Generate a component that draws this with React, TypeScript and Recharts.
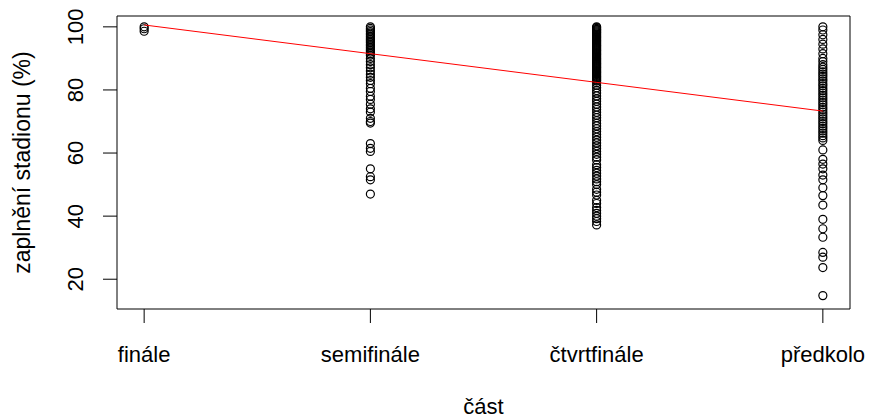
import React from 'react';
import { ComposedChart, Scatter, XAxis, YAxis, ReferenceArea, Label } from 'recharts';

const categories = ['finále', 'semifinále', 'čtvrtfinále', 'předkolo'];

const finale = [100, 99.4, 98.6];

const semifinale = [
  100, 99.5, 99, 98.5, 98, 97.5, 97, 96.5, 96, 95.5, 95, 94.5, 94, 93.5, 93, 92.5, 92,
  91.5, 91, 90, 89, 88, 87, 86, 85, 84, 83, 82, 80.5, 79.5, 78, 77, 75.5, 74, 73, 71,
  70, 69.5, 63, 61.5, 60.5, 55, 52.5, 51.5, 47,
];

const ctvrtfinale = [
  100, 99.8, 99.5, 99.2, 99, 98.7, 98.4, 98.1, 97.8, 97.5, 97.2, 96.9, 96.6, 96.3, 96,
  95.7, 95.4, 95.1, 94.8, 94.5, 94.2, 93.9, 93.6, 93.3, 93, 92.7, 92.4, 92.1, 91.8,
  91.5, 91.2, 90.9, 90.6, 90.3, 90, 89.7, 89.4, 89.1, 88.8, 88.5, 88.2, 87.9, 87.6,
  87.3, 87, 86.7, 86.4, 86.1, 85.8, 85.5, 85.2, 84.9, 84.6, 84.3, 84, 83.7, 83.4, 83.1,
  82.8, 82.3, 81.5, 80.7, 79.8, 79, 78.1, 77.2, 76.4, 75.5, 74.6, 73.8, 72.9, 72, 71.2,
  70.3, 69.4, 68.6, 67.7, 66.8, 65.9, 65, 64.1, 63.2, 62.3, 61.4, 60.5, 59.6, 58.7,
  57.8, 56.3, 55.4, 54.5, 53.6, 52.7, 51.8, 50.9, 50, 48.5, 47.6, 46.7, 45, 44, 42.7,
  41.8, 40.9, 40, 39.2, 38.3, 37.2,
];

const predkolo = [
  100, 99, 97.5, 96, 94.5, 93, 91.5, 90, 89, 88, 87.2, 86.5, 85.7, 85, 84.3, 83.5, 82.8,
  82, 81.3, 80.5, 79.8, 79, 78.3, 77.5, 76.8, 76, 75.3, 74.5, 73.8, 73, 72.3, 71.5,
  70.8, 70, 69.3, 68.5, 67.8, 67, 66.3, 65.5, 64.8, 64, 61, 58, 56.5, 55, 53, 51.5,
  49, 46.5, 43.5, 39, 36, 33.3, 28.5, 27, 23.7, 14.8,
];

const trend = [100.6, 91.5, 82.4, 73.3];

const xTicks = [1, 2, 3, 4];
const yTicks = [20, 40, 60, 80, 100];

const groups = [finale, semifinale, ctvrtfinale, predkolo];
const points = groups.flatMap((vals, i) => vals.map((v) => ({ x: i + 1, y: v })));
const trendData = trend.map((v, i) => ({ x: i + 1, y: v }));

const FONT = '"Liberation Sans", Arial, sans-serif';
const FS = 22;

const OpenCircle = (props: any) => (
  <circle cx={props.cx} cy={props.cy} r={4} fill="none" stroke="#000" strokeWidth={1.2} />
);
const NoShape = () => <g />;

const XTick = (props: any) => {
  const { x, y, payload } = props;
  return (
    <text x={x} y={y + 37} textAnchor="middle" fontFamily={FONT} fontSize={FS} fill="#000">
      {categories[payload.value - 1]}
    </text>
  );
};

const YTick = (props: any) => {
  const { x, y, payload } = props;
  const bx = x - 18;
  return (
    <text
      x={bx}
      y={y}
      transform={`rotate(-90 ${bx} ${y})`}
      textAnchor="middle"
      fontFamily={FONT}
      fontSize={FS}
      fill="#000"
    >
      {payload.value}
    </text>
  );
};

export default function App() {
  return (
    <div style={{ position: 'absolute', left: 0, top: 0, width: 870, height: 419, background: '#fff' }}>
      <ComposedChart width={870} height={419} margin={{ top: 16, right: 20, bottom: 0, left: 0 }}>
        <XAxis
          type="number"
          dataKey="x"
          domain={[0.88, 4.12]}
          ticks={xTicks}
          axisLine={false}
          tickLine={{ stroke: '#000' }}
          tickSize={14}
          tickMargin={2}
          height={110}
          tick={<XTick />}
          interval={0}
          allowDataOverflow
        >
          <Label
            content={(p: any) => {
              const vb = p.viewBox;
              return (
                <text x={vb.x + vb.width / 2} y={vb.y + 105} textAnchor="middle" fontFamily={FONT} fontSize={FS} fill="#000">
                  část
                </text>
              );
            }}
          />
        </XAxis>
        <YAxis
          type="number"
          dataKey="y"
          domain={[10.56, 103.44]}
          ticks={yTicks}
          axisLine={false}
          tickLine={{ stroke: '#000' }}
          tickSize={14}
          tickMargin={2}
          width={117}
          tick={<YTick />}
          interval={0}
          allowDataOverflow
        >
          <Label
            content={(p: any) => {
              const vb = p.viewBox;
              const cx = 30;
              const cy = vb.y + vb.height / 2;
              return (
                <text
                  x={cx}
                  y={cy}
                  transform={`rotate(-90 ${cx} ${cy})`}
                  textAnchor="middle"
                  fontFamily={FONT}
                  fontSize={23}
                  fill="#000"
                >
                  zaplnění stadionu (%)
                </text>
              );
            }}
          />
        </YAxis>
        <ReferenceArea
          x1={0.88}
          x2={4.12}
          y1={10.56}
          y2={103.44}
          fill="none"
          fillOpacity={0}
          stroke="#000"
          strokeWidth={1}
          ifOverflow="visible"
        />
        <Scatter data={points} shape={OpenCircle} isAnimationActive={false} />
        <Scatter
          data={trendData}
          shape={NoShape}
          line={{ stroke: '#ff0000', strokeWidth: 1 }}
          isAnimationActive={false}
        />
      </ComposedChart>
    </div>
  );
}
